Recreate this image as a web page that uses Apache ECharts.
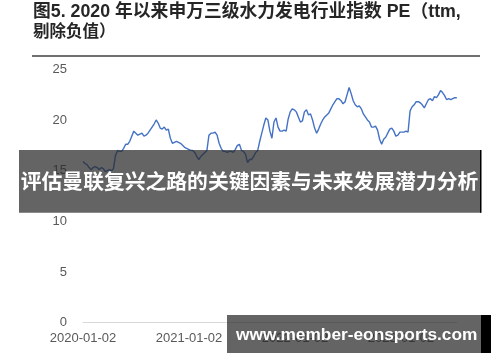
<!DOCTYPE html>
<html>
<head>
<meta charset="utf-8">
<script src="https://cdn.jsdelivr.net/npm/echarts@6/dist/echarts.min.js"></script>
<style>html,body{margin:0;padding:0;background:#fff;}#c{width:500px;height:362px;}</style>
</head>
<body>
<div id="c"></div>
<script>
const titleLine1 = '图5. 2020 年以来申万三级水力发电行业指数 PE（ttm,';
const titleLine2 = '剔除负值）';
const bannerText = '评估曼联复兴之路的关键因素与未来发展潜力分析';
const watermarkText = 'www.member-eonsports.com';
const tickLabels = ['2020-01-02', '2021-01-02', '2022-01-02', '2023-01-02'];
const yTicks = [0, 5, 10, 15, 20, 25];
const startDate = '2020-01-02';
const stepDays = 7;
// weekly PE (ttm) values
const pe = [
15.9,15.7,15.6,15.3,15.1,15.3,15.4,15.3,15.1,15.3,
15.2,14.9,15.0,15.1,15.0,15.2,16.5,17.0,16.9,16.9,
17.2,17.6,17.6,17.9,18.4,18.9,18.7,18.5,18.6,18.7,
18.4,18.5,18.7,19.0,19.3,19.6,20.0,19.7,19.2,19.1,
19.3,19.0,19.1,18.2,17.7,17.8,17.9,17.8,17.7,17.5,
17.3,17.2,17.1,17.0,17.0,16.8,16.4,16.1,16.4,16.6,
16.8,17.0,18.5,18.7,18.7,18.8,18.5,17.7,17.2,16.9,
16.9,16.8,16.9,16.9,16.8,17.1,17.5,17.6,17.0,16.9,
16.6,15.8,16.1,16.1,16.4,16.8,17.0,17.9,18.7,19.5,
20.2,20.0,18.9,18.2,19.8,20.2,19.3,18.9,18.9,19.0,
18.9,20.1,20.8,21.1,21.0,20.8,20.3,19.8,19.9,20.8,
21.0,20.5,20.6,20.0,19.2,18.7,19.1,19.6,20.0,20.3,
20.5,20.7,21.1,21.5,21.8,22.1,22.1,21.9,21.6,21.8,
22.5,23.2,22.6,21.9,21.5,21.3,21.4,21.1,20.6,20.3,
20.0,19.8,19.3,19.3,19.4,19.0,18.1,17.6,18.1,18.3,
18.7,19.1,19.2,18.9,18.4,18.5,18.8,18.8,18.8,18.9,
18.8,20.9,21.3,21.5,21.8,21.8,21.7,21.5,21.2,21.6,
22.0,22.1,21.9,22.3,22.2,22.5,22.9,22.7,22.4,22.0,
22.1,22.0,22.1,22.2,22.2
];

const DAY = 86400000;
const t0 = Date.parse(startDate + 'T00:00:00Z');
const dates = pe.map((_, i) => new Date(t0 + i * stepDays * DAY).toISOString().slice(0, 10));
const seriesData = dates.map((d, i) => [(Date.parse(d + 'T00:00:00Z') - t0) / DAY, pe[i]]);
const lastDay = seriesData[seriesData.length - 1][0];

const chart = echarts.init(document.getElementById('c'), null, {renderer: 'canvas'});
const latin = 'Arial, "Liberation Sans", "Noto Sans CJK SC", sans-serif';
chart.setOption({
  animation: false,
  backgroundColor: '#ffffff',
  grid: {left: 83, right: 43.2, top: 69.3, bottom: 39.3, containLabel: false},
  xAxis: {
    type: 'value', min: 0, max: lastDay, interval: 365.25,
    axisLine: {show: true, lineStyle: {color: '#d9d9d9', width: 1}},
    axisTick: {show: false},
    splitLine: {show: false},
    axisLabel: {
      color: '#595959', fontSize: 13, fontFamily: latin, margin: 9,
      showMaxLabel: false,
      formatter: (v, i) => tickLabels[i] || ''
    }
  },
  yAxis: {
    type: 'value', min: yTicks[0], max: yTicks[yTicks.length - 1], interval: 5,
    axisLine: {show: false}, axisTick: {show: false}, splitLine: {show: false},
    axisLabel: {color: '#595959', fontSize: 13, fontFamily: latin, margin: 16}
  },
  series: [{
    type: 'line', data: seriesData, showSymbol: false, symbol: 'none',
    lineStyle: {color: '#4472C4', width: 1.4}, z: 2
  }],
  graphic: [
    {type: 'text', left: 33, top: 3, z: 100, style: {text: titleLine1, fill: '#262626', font: 'bold 17.8px ' + latin}},
    {type: 'text', left: 33, top: 24, z: 100, style: {text: titleLine2, fill: '#262626', font: 'bold 16.5px ' + latin}},
    {type: 'line', z: 100, shape: {x1: 32, y1: 56, x2: 480, y2: 56}, style: {stroke: '#404040', lineWidth: 1.4}},
    {type: 'rect', z: 100, shape: {x: 19, y: 150, width: 462, height: 62.7}, style: {fill: 'rgba(40,40,40,0.72)'}},
    {type: 'rect', z: 100, shape: {x: 480, y: 150, width: 1.5, height: 62.7}, style: {fill: '#000'}},
    {type: 'text', z: 101, x: 249.5, y: 181, style: {text: bannerText, fill: '#fff', font: 'bold 20.8px "Noto Sans CJK SC", sans-serif', align: 'center', verticalAlign: 'middle'}},
    {type: 'rect', z: 100, shape: {x: 227, y: 315, width: 254, height: 38}, style: {fill: 'rgba(40,40,40,0.72)'}},
    {type: 'rect', z: 100, shape: {x: 481, y: 315, width: 10, height: 38}, style: {fill: '#000'}},
    {type: 'text', z: 101, x: 236, y: 335, style: {text: watermarkText, fill: '#fff', font: 'bold 17.3px ' + latin, align: 'left', verticalAlign: 'middle'}}
  ]
});
</script>
</body>
</html>
